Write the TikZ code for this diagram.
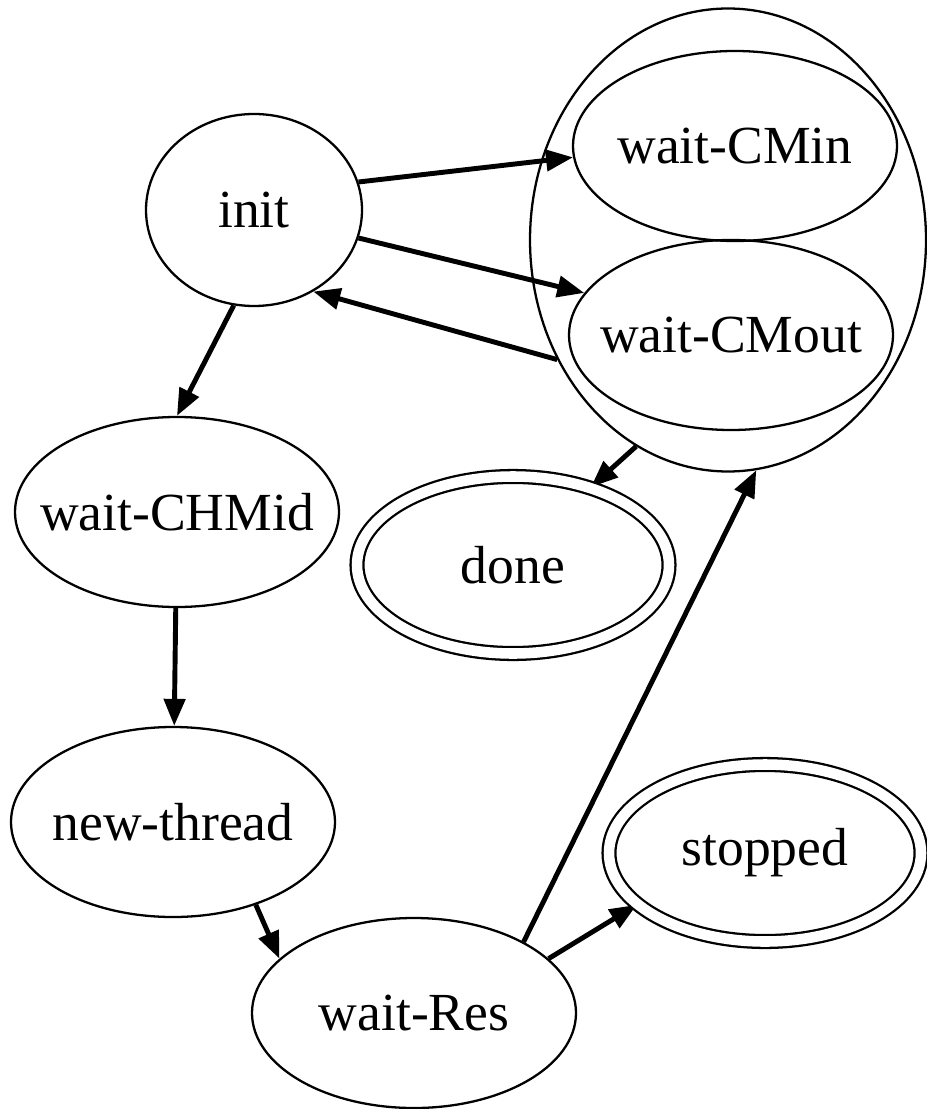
\documentclass[tikz,border=0pt]{standalone}
\usepackage{fontspec}
\setmainfont{Liberation Serif}
\usetikzlibrary{shapes.geometric,arrows.meta}
\pgfdeclarelayer{bg}
\pgfsetlayers{bg,main}
\tikzstyle{st}=[draw=black, shape=ellipse, line width=1.3pt, minimum width=6.48cm, minimum height=3.8cm, inner sep=-1cm, font=\fontsize{30.5}{36}\selectfont]
\tikzstyle{fin}=[st, double, double distance=6pt, minimum width=6.24cm, minimum height=3.54cm]
\tikzstyle{grp}=[draw=black, shape=ellipse, line width=1.3pt, minimum width=7.92cm, minimum height=9.26cm, inner sep=0pt]
\tikzstyle{tr}=[-{Triangle[length=5.4mm, width=4.2mm]}, line width=2.8pt]

\begin{document}
\begin{tikzpicture}
    \useasboundingbox (0, 0) rectangle (18.52, -22.18);

    \node [st, minimum width=4.32cm, minimum height=3.84cm] (init) at (5.08, -4.2) {init};
    \node [grp] (cm) at (14.56, -4.8) {};
    \node [st] (wCMin) at (14.7, -2.92) {wait-CMin};
    \node [st] (wCMout) at (14.62, -6.7) {wait-CMout};
    \node [st] (wCHMid) at (3.54, -10.24) {wait-CHMid};
    \node [fin] (done) at (10.26, -11.3) {done};
    \node [st] (newThread) at (3.46, -16.44) {new-thread};
    \node [fin] (stopped) at (15.3, -17.06) {stopped};
    \node [st] (wRes) at (8.28, -20.26) {wait-Res};

    \begin{pgfonlayer}{bg}
        \draw [tr] (init.15) -- (wCMin.-176);
        \draw [tr] (init.-15) -- (wCMout.164);
        \draw [tr] (cm.215) -- (init.-54);
        \draw [tr] (init.-102) -- (wCHMid.north);
        \draw [tr] (cm.246) -- (done.45);
        \draw [tr] (wCHMid) -- (newThread);
        \draw [tr] (newThread.-45) -- (wRes.158);
        \draw [tr] (wRes.33) -- (cm.-83);
        \draw [tr] (wRes.22) -- (stopped.202);
    \end{pgfonlayer}
\end{tikzpicture}
\end{document}
